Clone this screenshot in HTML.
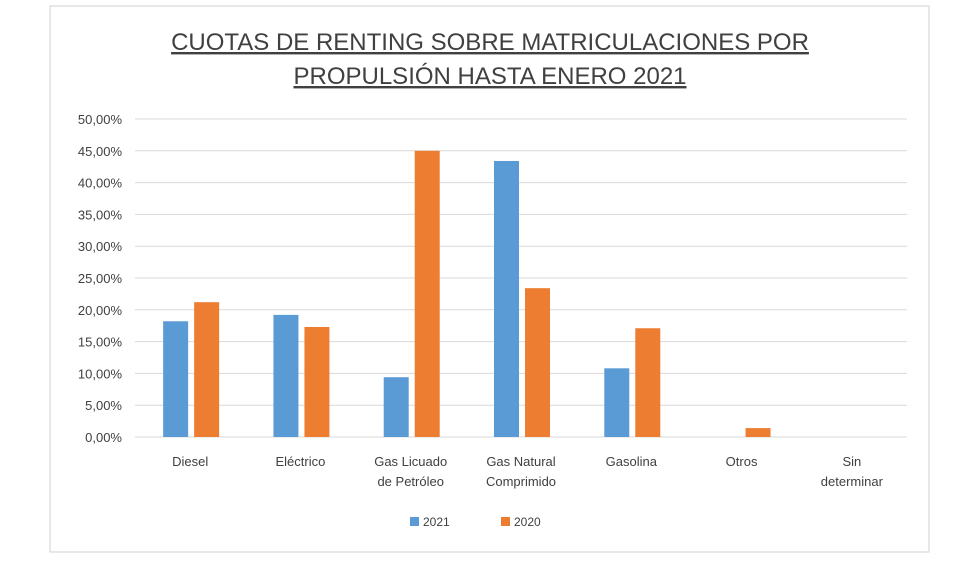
<!DOCTYPE html>
<html><head><meta charset="utf-8"><style>
body{margin:0;background:#fff;font-family:"Liberation Sans",sans-serif}
svg text{font-family:"Liberation Sans",sans-serif;fill:#404040}
</style></head><body>
<svg width="980" height="560">
<rect x="50" y="6" width="879" height="546" fill="#fff" stroke="#d0d0d0"/>
<text x="490" y="50" font-size="24" text-anchor="middle" text-decoration="underline">CUOTAS DE RENTING SOBRE MATRICULACIONES POR</text>
<text x="490" y="84" font-size="24" text-anchor="middle" text-decoration="underline">PROPULSIÓN HASTA ENERO 2021</text>
<g id="grid"></g><g id="bars"></g><g id="xl"></g>
<rect x="410" y="517" width="9" height="9" fill="#5b9bd5"/>
<text x="423" y="526" font-size="12">2021</text>
<rect x="501" y="517" width="9" height="9" fill="#ed7d31"/>
<text x="514" y="526" font-size="12">2020</text>
</svg>
<script>
const categories=[["Diesel"],["Eléctrico"],["Gas Licuado","de Petróleo"],["Gas Natural","Comprimido"],["Gasolina"],["Otros"],["Sin","determinar"]];
const s2021=[18.2,19.2,9.4,43.4,10.8,0,0];
const s2020=[21.2,17.3,45.0,23.4,17.1,1.4,0];
const ticks=[0,5,10,15,20,25,30,35,40,45,50];
const NS="http://www.w3.org/2000/svg";
const x0=135,x1=907,yb=437,yt=119;
const y=v=>yb-(v/50)*(yb-yt);
const bw=(x1-x0)/categories.length;
function el(t,a,p){const e=document.createElementNS(NS,t);for(const k in a)e.setAttribute(k,a[k]);document.getElementById(p).appendChild(e);return e;}
ticks.forEach(t=>{
 const l=el("line",{x1:x0,x2:x1,y1:y(t),y2:y(t),stroke:"#d9d9d9","stroke-width":1},"grid");
 
 
 const tx=el("text",{x:122,y:y(t)+5,"font-size":"13","text-anchor":"end"},"grid");
 tx.textContent=t.toFixed(2).replace(".",",")+"%";
 
 
});
categories.forEach((c,i)=>{
 const cx=x0+bw*(i+0.5);
 const a=el("rect",{x:cx-27,y:y(s2021[i]),width:25,height:yb-y(s2021[i]),fill:"#5b9bd5"},"bars");
 
 
 const b=el("rect",{x:cx+4,y:y(s2020[i]),width:25,height:yb-y(s2020[i]),fill:"#ed7d31"},"bars");
 
 
 c.forEach((ln,j)=>{
  const t=el("text",{x:cx,y:466+j*20,"font-size":"13","text-anchor":"middle"},"xl");
  t.textContent=ln;
  
  
 });
});
</script>
</body></html>
